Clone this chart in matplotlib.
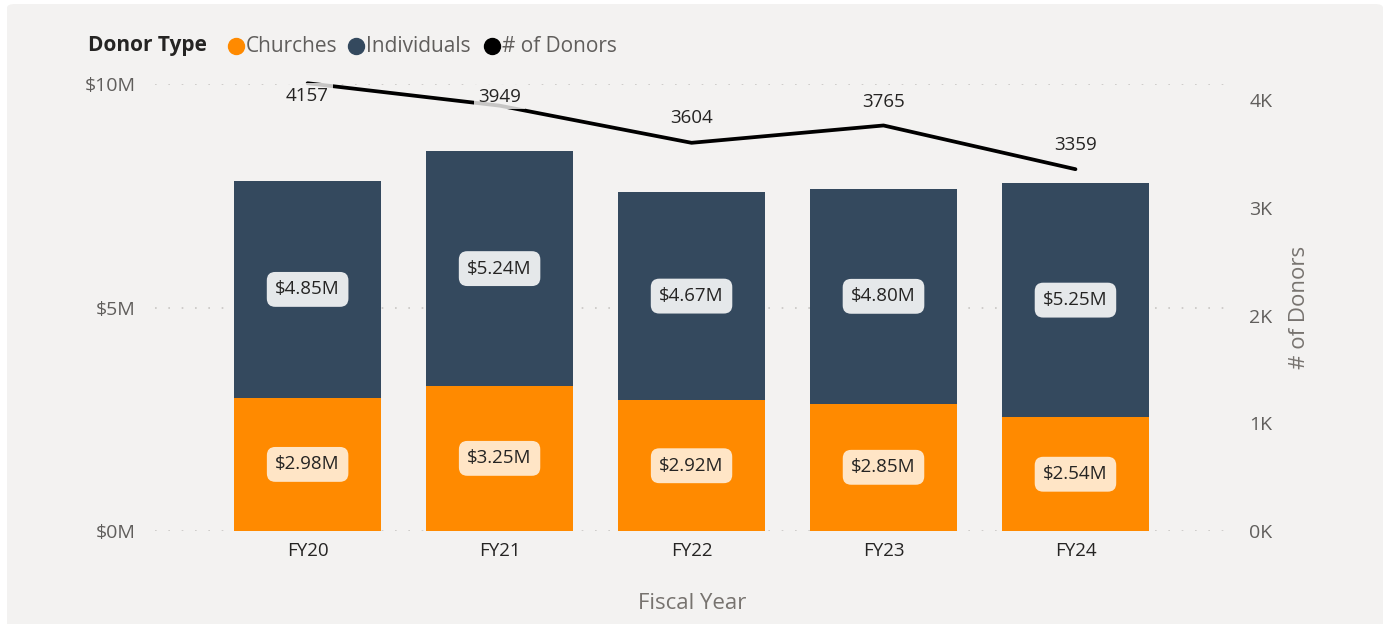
import matplotlib
matplotlib.use("Agg")
import matplotlib.pyplot as plt
from matplotlib.patches import FancyBboxPatch
from matplotlib.lines import Line2D
import numpy as np

years = ["FY20", "FY21", "FY22", "FY23", "FY24"]
churches = [2.98, 3.25, 2.92, 2.85, 2.54]
individuals = [4.85, 5.24, 4.67, 4.80, 5.25]
donors = [4157, 3949, 3604, 3765, 3359]
left_ticks = [0, 5, 10]
left_labels = ["$0M", "$5M", "$10M"]
right_ticks = [0, 1000, 2000, 3000, 4000]
right_labels = ["0K", "1K", "2K", "3K", "4K"]
series_names = ["Churches", "Individuals", "# of Donors"]

C_OR = "#FF8A00"
C_NV = "#34495E"
BG = "#F3F2F1"
TXT = "#252423"
TICK = "#605E5C"
AXT = "#77736F"

plt.rcParams['font.family'] = ['Open Sans', 'DejaVu Sans']

W, H = 1385, 624
fig = plt.figure(figsize=(W / 100, H / 100), dpi=100, facecolor="white")
panel = FancyBboxPatch((7 / W, -20 / H), 1376 / W, 640 / H,
                       boxstyle="round,pad=0,rounding_size=0.006",
                       transform=fig.transFigure, facecolor=BG, edgecolor="none", zorder=-5)
fig.patches.append(panel)

ax = fig.add_axes([155 / W, 1 - 531 / H, (1230 - 155) / W, (531 - 84) / H])
ax.set_facecolor("none")
x = np.arange(len(years))
bw = 0.766
ax.bar(x, churches, bw, color=C_OR, zorder=2)
ax.bar(x, individuals, bw, bottom=churches, color=C_NV, zorder=2)
ax.set_xlim(-0.795, 4.805)
ax.set_ylim(0, 10)
ax.set_yticks(left_ticks)
ax.set_yticklabels(left_labels)
ax.set_xticks(x)
ax.set_xticklabels(years)
ax.tick_params(axis="y", length=0, pad=14, labelsize=14, labelcolor=TICK)
ax.tick_params(axis="x", length=0, pad=8, labelsize=13.5, labelcolor=TXT)
for s in ax.spines.values():
    s.set_visible(False)
for t in left_ticks:
    ax.axhline(t, color="#C8C6C4", lw=1.2, ls=(0, (1, 7)), zorder=1)
ax.set_xlabel("Fiscal Year", fontsize=16, color=AXT, labelpad=24)

for i in range(len(years)):
    ax.text(x[i], churches[i] / 2, f"${churches[i]:.2f}M", ha="center", va="center",
            fontsize=13.5, color=TXT, zorder=4,
            bbox=dict(boxstyle="round,pad=0.45,rounding_size=0.45", facecolor="white",
                      alpha=0.78, edgecolor="none"))
    ax.text(x[i], churches[i] + individuals[i] / 2, f"${individuals[i]:.2f}M", ha="center",
            va="center", fontsize=13.5, color=TXT, zorder=4,
            bbox=dict(boxstyle="round,pad=0.45,rounding_size=0.45", facecolor="white",
                      alpha=0.88, edgecolor="none"))

ax2 = ax.twinx()
ax2.set_ylim(0, 4150)
ax2.plot(x, donors, color="black", lw=2.7, zorder=3, solid_capstyle="round", clip_on=False)
ax2.set_yticks(right_ticks)
ax2.set_yticklabels(right_labels)
ax2.tick_params(axis="y", length=0, pad=14, labelsize=14, labelcolor=TICK)
for s in ax2.spines.values():
    s.set_visible(False)
ax2.set_ylabel("# of Donors", fontsize=16, color=AXT, labelpad=12)
offsets = [-13, 9, 25, 23, 24]
for i in range(len(years)):
    ax2.annotate(str(donors[i]), (x[i], donors[i]), xytext=(0, offsets[i]),
                 textcoords="offset pixels", ha="center", va="center", fontsize=13.5,
                 color=TXT, zorder=5, annotation_clip=False,
                 bbox=dict(boxstyle="square,pad=0.2", facecolor=BG, alpha=0.82,
                           edgecolor="none"))

# legend
ly = 1 - 46 / H
fig.text(88 / W, ly, "Donor Type", fontsize=15, fontweight="bold", color=TXT,
         va="center", ha="left")
entries = [(236, C_OR, series_names[0]), (356, C_NV, series_names[1]),
           (492, "black", series_names[2])]
for px, col, name in entries:
    fig.add_artist(Line2D([px / W], [ly], marker="o", markersize=11.5, color=col,
                          transform=fig.transFigure, linestyle="none"))
    fig.text((px + 10) / W, ly, name, fontsize=15, color=TICK, va="center", ha="left")

fig.savefig("out.png", dpi=100, facecolor="white")
